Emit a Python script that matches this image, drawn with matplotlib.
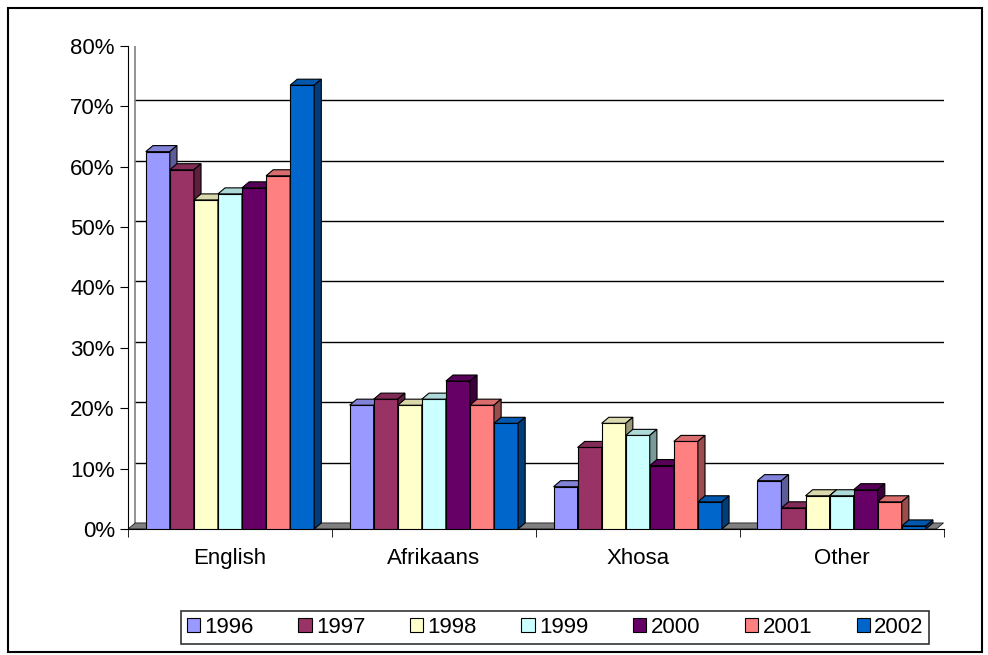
import numpy as np
import matplotlib.pyplot as plt
from matplotlib.patches import Polygon, Rectangle

plt.rcParams['font.family'] = ['Liberation Sans', 'DejaVu Sans']

categories = ['English', 'Afrikaans', 'Xhosa', 'Other']
years = ['1996', '1997', '1998', '1999', '2000', '2001', '2002']
values = {
    '1996': [62.5, 20.5, 7, 8],
    '1997': [59.5, 21.5, 13.5, 3.5],
    '1998': [54.5, 20.5, 17.5, 5.5],
    '1999': [55.5, 21.5, 15.5, 5.5],
    '2000': [56.5, 24.5, 10.5, 6.5],
    '2001': [58.5, 20.5, 14.5, 4.5],
    '2002': [73.5, 17.5, 4.5, 0.5],
}
colors = ['#9999FF', '#993366', '#FFFFCC', '#CCFFFF', '#660066', '#FF8080', '#0066CC']

def shade(c, f):
    r, g, b = plt.matplotlib.colors.to_rgb(c)
    return (r * f, g * f, b * f)

fig = plt.figure(figsize=(9.88, 6.55), dpi=100)
fig.patches.append(Rectangle((0.008, 0.004), 0.986, 0.984, transform=fig.transFigure,
                             fill=False, edgecolor='black', lw=1.5))
ax = fig.add_axes([0.1296, 0.1924, 0.8254, 0.7374])

bw = 0.118
dx, dy = 0.035, 1.0
x = np.arange(len(categories))

# back wall gridlines
for g in range(10, 81, 10):
    ax.plot([-0.5 + dx, 3.5], [g + dy, g + dy], color='black', lw=1, zorder=0)
ax.plot([-0.5 + dx, -0.5 + dx], [dy, 80 + dy], color='gray', lw=1.2, zorder=0)
# floor
ax.add_patch(Polygon([(-0.5, 0), (3.5 - dx, 0), (3.5, dy), (-0.5 + dx, dy)],
                     closed=True, facecolor='#808080', edgecolor='black', lw=0.5, zorder=1))

for j, (yr, c) in enumerate(zip(years, colors)):
    xs = x - 3 * bw + j * bw
    vals = values[yr]
    ax.bar(xs, vals, width=bw, color=c, edgecolor='black', lw=0.8, zorder=3 + j, label=yr)
    for xi, v in zip(xs, vals):
        l, r = xi - bw / 2, xi + bw / 2
        ax.add_patch(Polygon([(l, v), (r, v), (r + dx, v + dy), (l + dx, v + dy)],
                             closed=True, facecolor=shade(c, 0.85), edgecolor='black', lw=0.8, zorder=3 + j))
        ax.add_patch(Polygon([(r, 0), (r + dx, dy), (r + dx, v + dy), (r, v)],
                             closed=True, facecolor=shade(c, 0.6), edgecolor='black', lw=0.8, zorder=3 + j))

ax.set_xlim(-0.5, 3.5)
ax.set_ylim(0, 80)
ax.set_yticks(range(0, 81, 10))
ax.set_yticklabels([f'{t}%' for t in range(0, 81, 10)], fontsize=16)
ax.set_xticks(x)
ax.set_xticklabels(categories, fontsize=16)
ax.set_xticks(np.arange(-0.5, 3.6, 1), minor=True)
ax.tick_params(axis='x', which='major', length=0, pad=14)
ax.tick_params(axis='x', which='minor', length=6, direction='out')
ax.tick_params(axis='y', length=6, direction='out')
for s in ['top', 'right']:
    ax.spines[s].set_visible(False)

leg = fig.legend(loc='center', bbox_to_anchor=(0.562, 0.042), ncol=7, fontsize=16,
                 frameon=True, fancybox=False, edgecolor='black', handlelength=0.6,
                 handleheight=0.6, columnspacing=2.0, handletextpad=0.2, borderpad=0.25)
leg.get_frame().set_linewidth(1.2)

fig.savefig('out.png', dpi=100)
